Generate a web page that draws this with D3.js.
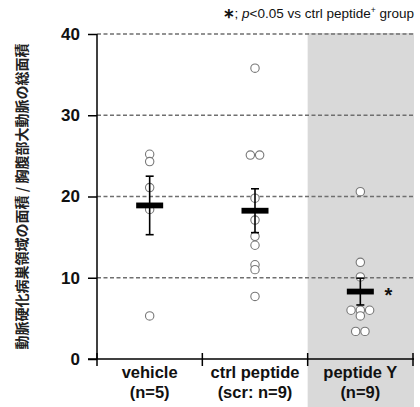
<!DOCTYPE html>
<html>
<head>
<meta charset="utf-8">
<script src="https://cdn.jsdelivr.net/npm/d3@7.9.0/dist/d3.min.js"></script>
<style>
  body { margin: 0; background: #fff; }
  svg { display: block; font-family: "Liberation Sans", Arial, sans-serif; }
</style>
</head>
<body>
<svg width="420" height="407"></svg>
<script>
// data
const categories = ["vehicle", "ctrl peptide", "peptide Y"];
const subLabels = ["(n=5)", "(scr: n=9)", "(n=9)"];
const vehicleVals = [25.2, 24.3, 21.1, 18.4, 5.3];
const ctrlVals = [35.8, 25.1, 25.1, 19.8, 17.1, 15.1, 14.0, 11.6, 11.0, 7.7];
const peptideYVals = [20.6, 11.9, 10.1, 6.0, 6.0, 6.0, 5.3, 3.4, 3.4];
const means = [18.9, 18.25, 8.3];
const sems = [3.6, 2.7, 1.65];
const yTicks = [0, 10, 20, 30, 40];
const groups = [vehicleVals, ctrlVals, peptideYVals];

const svg = d3.select("svg");
const plotLeft = 97, plotRight = 413, plotTop = 34, plotBottom = 359;

let y = d3.scaleLinear().domain([0, 40]).range([plotBottom, plotTop]);
let x = d3.scaleBand().domain(categories).range([plotLeft, plotRight]).padding(0);
const bw = x.bandwidth();

// shaded background behind peptide Y
svg.append("rect")
  .attr("x", x("peptide Y"))
  .attr("y", plotTop - 1)
  .attr("width", bw + 1)
  .attr("height", 407 - plotTop + 1)
  .attr("fill", "#d9d9d9");

// dashed grid
svg.selectAll(".grid")
  .data(yTicks.filter(d => d > 0))
  .enter().append("line")
  .attr("x1", plotLeft).attr("x2", plotRight + 1)
  .attr("y1", d => y(d)).attr("y2", d => y(d))
  .attr("stroke", "#6f6f6f")
  .attr("stroke-width", 1.5)
  .attr("stroke-dasharray", "4,2.5");

// y axis
let yAxis = d3.axisLeft(y).tickValues(yTicks).tickSize(9).tickPadding(8);
let gy = svg.append("g").attr("transform", `translate(${plotLeft},0)`).call(yAxis);
gy.select(".domain").remove();
gy.selectAll(".tick line").attr("stroke", "#000").attr("stroke-width", 1.5);
gy.selectAll(".tick text")
  .attr("font-size", 17).attr("font-weight", "bold")
  .attr("font-family", "Liberation Sans, Arial, sans-serif").attr("fill", "#111");
svg.append("line")
  .attr("x1", plotLeft).attr("x2", plotLeft)
  .attr("y1", y(40)).attr("y2", y(0))
  .attr("stroke", "#000").attr("stroke-width", 1.5);

// x axis
svg.append("line")
  .attr("x1", plotLeft - 9).attr("x2", plotRight + 1)
  .attr("y1", y(0)).attr("y2", y(0))
  .attr("stroke", "#000").attr("stroke-width", 1.5);
let edges = categories.map(c => x(c)).concat([x(categories[2]) + bw]);
svg.selectAll(".xtick")
  .data(edges)
  .enter().append("line")
  .attr("x1", d => d).attr("x2", d => d)
  .attr("y1", y(0) - 6).attr("y2", y(0) + 7)
  .attr("stroke", "#000").attr("stroke-width", 1.5);

categories.forEach((c, i) => {
  let t = svg.append("text")
    .attr("x", x(c) + bw / 2)
    .attr("text-anchor", "middle")
    .attr("font-size", 16.5).attr("font-weight", "bold").attr("fill", "#111");
  t.append("tspan").attr("x", x(c) + bw / 2).attr("y", 378).text(c);
  t.append("tspan").attr("x", x(c) + bw / 2).attr("y", 398).text(subLabels[i]);
});

// points: spread identical values side by side
groups.forEach((vals, gi) => {
  const cx = x(categories[gi]) + bw / 2;
  let counts = d3.rollup(vals, v => v.length, d => d);
  let seen = new Map();
  vals.forEach(v => {
    let n = counts.get(v);
    let k = seen.get(v) || 0;
    seen.set(v, k + 1);
    let off = (k - (n - 1) / 2) * 9.3;
    svg.append("circle")
      .attr("cx", cx + off)
      .attr("cy", y(v))
      .attr("r", 4.2)
      .attr("fill", "#fff")
      .attr("stroke", "#777")
      .attr("stroke-width", 1.1);
  });
});

// mean +/- SEM
means.forEach((m, i) => {
  const cx = x(categories[i]) + bw / 2;
  const g = svg.append("g").attr("stroke", "#000").attr("stroke-width", 1.6);
  g.append("line").attr("x1", cx).attr("x2", cx)
    .attr("y1", y(m + sems[i])).attr("y2", y(m - sems[i]));
  [m + sems[i], m - sems[i]].forEach(v => {
    g.append("line").attr("x1", cx - 4).attr("x2", cx + 4)
      .attr("y1", y(v)).attr("y2", y(v));
  });
  svg.append("rect")
    .attr("x", cx - 13.5).attr("y", y(m) - 2.9)
    .attr("width", 27).attr("height", 5.8)
    .attr("fill", "#000");
});

// significance mark
svg.append("text")
  .attr("x", x("peptide Y") + bw / 2 + 28)
  .attr("y", y(means[2]) + 10)
  .attr("text-anchor", "middle")
  .attr("font-size", 20).attr("font-weight", "bold").attr("fill", "#111")
  .text("*");

// note
let note = svg.append("text")
  .attr("x", 414).attr("y", 18)
  .attr("text-anchor", "end")
  .attr("font-size", 13.5).attr("fill", "#111");
note.append("tspan").attr("font-weight", "bold").text("∗");
note.append("tspan").text("; ");
note.append("tspan").attr("font-style", "italic").text("p");
note.append("tspan").text("<0.05 vs ctrl peptide");
note.append("tspan").attr("font-size", 8.5).attr("dy", -5).text("+");
note.append("tspan").attr("dy", 5).text(" group");

// y label
svg.append("text")
  .attr("transform", `translate(27,${(plotTop + plotBottom) / 2}) rotate(-90)`)
  .attr("text-anchor", "middle")
  .attr("font-family", "Noto Sans CJK JP, sans-serif")
  .attr("font-size", 14).attr("font-weight", "bold").attr("fill", "#222")
  .text("動脈硬化病巣領域の面積 / 胸腹部大動脈の総面積");
</script>
</body>
</html>
